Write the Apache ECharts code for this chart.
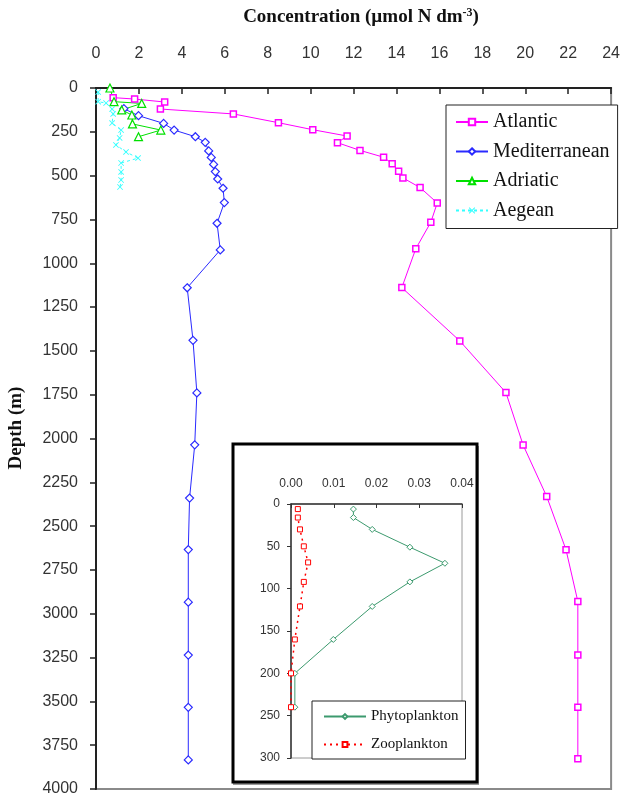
<!DOCTYPE html>
<html>
<head>
<meta charset="utf-8">
<script src="https://cdn.jsdelivr.net/npm/echarts@6/dist/echarts.min.js"></script>
<style>
  html, body { margin: 0; padding: 0; background: #fff; }
  #chart { width: 623px; height: 799px; }
</style>
</head>
<body>
<div id="chart"></div>
<script>
// main panel: concentration (umol N dm-3) against depth (m)
const atlanticConc = [0.8, 1.8, 3.2, 3.0, 6.4, 8.5, 10.1, 11.7, 11.25, 12.3, 13.4, 13.8, 14.1, 14.3, 15.1, 15.9, 15.6, 14.9, 14.25, 16.95, 19.1, 19.9, 21.0, 21.9, 22.45, 22.45, 22.45, 22.45];
const atlanticDepth = [55, 63, 80, 120, 148, 198, 238, 274, 312, 356, 395, 432, 475, 513, 568, 656, 766, 917, 1139, 1443, 1738, 2037, 2331, 2635, 2930, 3235, 3533, 3828];

const medConc = [1.3, 1.98, 3.15, 3.64, 4.63, 5.09, 5.25, 5.37, 5.48, 5.56, 5.67, 5.92, 5.98, 5.64, 5.79, 4.25, 4.52, 4.7, 4.6, 4.36, 4.3, 4.3, 4.3, 4.3, 4.3];
const medDepth = [118, 158, 202, 240, 278, 310, 359, 396, 436, 477, 519, 572, 654, 772, 924, 1140, 1440, 1740, 2036, 2340, 2634, 2934, 3236, 3534, 3834];

const adriaticConc = [0.65, 0.84, 2.13, 1.2, 1.67, 1.7, 3.02, 1.98];
const adriaticDepth = [0, 78, 88, 125, 154, 205, 240, 278];

const aegeanConc = [0.1, 0.1, 0.47, 0.75, 0.8, 0.75, 1.17, 1.1, 0.93, 1.4, 1.96, 1.17, 1.17, 1.17, 1.12];
const aegeanDepth = [23, 78, 86, 120, 148, 200, 240, 285, 325, 365, 400, 428, 479, 525, 565];

// inset panel
const phytoConc = [0.0146, 0.0146, 0.019, 0.0278, 0.036, 0.0278, 0.019, 0.0099, 0.0009, 0.0009];
const phytoDepth = [6, 16, 30, 51, 70, 92, 121, 160, 200, 240];
const zooConc = [0.0016, 0.0016, 0.0021, 0.003, 0.004, 0.003, 0.0021, 0.0009, 0, 0];
const zooDepth = [6, 16, 30, 50, 69, 92, 121, 160, 200, 240];

const pair = (xs, ys) => xs.map((v, i) => [v, ys[i]]);

const crossPath = 'path://M0,1L1,0L5,4L9,0L10,1L6,5L10,9L9,10L5,6L1,10L0,9L4,5Z';
const sans = 'Liberation Sans';
const serif = 'Liberation Serif';

const chart = echarts.init(document.getElementById('chart'), null, { renderer: 'canvas' });

chart.setOption({
    backgroundColor: '#ffffff',
    animation: false,
    grid: [{
        left: 96, top: 88, width: 516, height: 701,
        show: true, borderColor: '#8a8a8a', borderWidth: 2
    }, {
        left: 291, top: 504, width: 171, height: 254,
        show: true, borderColor: '#9a9a9a', borderWidth: 1, z: 15
    }],
    xAxis: [{
        gridIndex: 0, type: 'value', position: 'top',
        min: 0, max: 24, interval: 2,
        axisLine: { show: true, lineStyle: { color: '#222', width: 2 } },
        axisTick: { show: true, inside: true, length: 6, lineStyle: { color: '#222', width: 1.5 } },
        axisLabel: { margin: 26, fontFamily: sans, fontSize: 16, color: '#333' },
        splitLine: { show: false }
    }, {
        gridIndex: 1, type: 'value', position: 'top', z: 20,
        min: 0, max: 0.04, interval: 0.01,
        axisLine: { show: true, lineStyle: { color: '#333', width: 1.5 } },
        axisTick: { show: true, inside: true, length: 4, lineStyle: { color: '#333' } },
        axisLabel: { margin: 14, fontFamily: sans, fontSize: 12, color: '#333', formatter: v => v.toFixed(2) },
        splitLine: { show: false }
    }],
    yAxis: [{
        gridIndex: 0, type: 'value', inverse: true,
        min: 0, max: 4000, interval: 250,
        axisLine: { show: true, lineStyle: { color: '#222', width: 2 } },
        axisTick: { show: true, length: 6, lineStyle: { color: '#222', width: 1.5 } },
        axisLabel: { margin: 18, fontFamily: sans, fontSize: 16, color: '#333', formatter: v => String(v) },
        splitLine: { show: false }
    }, {
        gridIndex: 1, type: 'value', inverse: true, z: 20,
        min: 0, max: 300, interval: 50,
        axisLine: { show: true, lineStyle: { color: '#333', width: 1.5 } },
        axisTick: { show: true, length: 4, lineStyle: { color: '#333' } },
        axisLabel: { margin: 11, fontFamily: sans, fontSize: 12, color: '#333', formatter: v => String(v) },
        splitLine: { show: false }
    }],
    legend: [{
        orient: 'vertical', left: 446, top: 105,
        padding: [7, 8, 8, 9], itemGap: 9.5, itemWidth: 32, itemHeight: 8,
        backgroundColor: '#fff', borderColor: '#222', borderWidth: 1,
        textStyle: { fontFamily: serif, fontSize: 20, color: '#111' },
        data: ['Atlantic', 'Mediterranean', 'Adriatic', 'Aegean']
    }, {
        orient: 'vertical', left: 312, top: 701, z: 25,
        padding: [8, 7, 7, 11], itemGap: 13, itemWidth: 42, itemHeight: 6,
        backgroundColor: '#fff', borderColor: '#222', borderWidth: 1,
        textStyle: { fontFamily: serif, fontSize: 15, color: '#111' },
        data: ['Phytoplankton', 'Zooplankton']
    }],
    graphic: [{
        type: 'text', z: 30,
        style: {
            x: 361, y: 17, align: 'center', verticalAlign: 'middle',
            textAlign: 'center', textVerticalAlign: 'middle',
            text: '{b|Concentration (µmol N dm}{s|-3}{b|)}',
            rich: {
                b: { fontFamily: serif, fontWeight: 'bold', fontSize: 19, fill: '#111' },
                s: { fontFamily: serif, fontWeight: 'bold', fontSize: 12, fill: '#111', verticalAlign: 'top', padding: [0, 0, 9, 0] }
            }
        }
    }, {
        type: 'text', z: 30, x: 16, y: 428, rotation: Math.PI / 2,
        style: {
            text: 'Depth (m)', align: 'center', verticalAlign: 'middle',
            textAlign: 'center', textVerticalAlign: 'middle',
            fontFamily: serif, fontWeight: 'bold', fontSize: 19, fill: '#111'
        }
    }, {
        type: 'rect', z: 9,
        shape: { x: 233, y: 446, width: 246, height: 339 },
        style: { fill: '#9a9a9a' }
    }, {
        type: 'rect', z: 10,
        shape: { x: 233, y: 444, width: 244, height: 338 },
        style: { fill: '#ffffff', stroke: '#000', lineWidth: 3 }
    }],
    series: [{
        name: 'Atlantic', type: 'line', xAxisIndex: 0, yAxisIndex: 0,
        data: pair(atlanticConc, atlanticDepth),
        symbol: 'rect', symbolSize: 6,
        lineStyle: { color: '#ff00ff', width: 1 },
        itemStyle: { color: '#ffffff', borderColor: '#ff00ff', borderWidth: 1.5 }
    }, {
        name: 'Mediterranean', type: 'line', xAxisIndex: 0, yAxisIndex: 0,
        data: pair(medConc, medDepth),
        symbol: 'diamond', symbolSize: 8,
        lineStyle: { color: '#2a2aff', width: 1 },
        itemStyle: { color: '#ffffff', borderColor: '#2a2aff', borderWidth: 1.2 }
    }, {
        name: 'Adriatic', type: 'line', xAxisIndex: 0, yAxisIndex: 0,
        data: pair(adriaticConc, adriaticDepth),
        symbol: 'triangle', symbolSize: 8,
        lineStyle: { color: '#00e000', width: 1 },
        itemStyle: { color: '#ffffff', borderColor: '#00e000', borderWidth: 1.2 }
    }, {
        name: 'Aegean', type: 'line', xAxisIndex: 0, yAxisIndex: 0,
        data: pair(aegeanConc, aegeanDepth),
        symbol: crossPath, symbolSize: 6,
        lineStyle: { color: '#33ffff', width: 1, type: [3, 3] },
        itemStyle: { color: '#33ffff' }
    }, {
        name: 'Phytoplankton', type: 'line', xAxisIndex: 1, yAxisIndex: 1, z: 20,
        data: pair(phytoConc, phytoDepth),
        symbol: 'diamond', symbolSize: 6,
        lineStyle: { color: '#3c9a6e', width: 1 },
        itemStyle: { color: '#ffffff', borderColor: '#3c9a6e', borderWidth: 1 }
    }, {
        name: 'Zooplankton', type: 'line', xAxisIndex: 1, yAxisIndex: 1, z: 20,
        data: pair(zooConc, zooDepth),
        symbol: 'rect', symbolSize: 5,
        lineStyle: { color: '#ff0000', width: 1.5, type: [2, 4] },
        itemStyle: { color: '#ffffff', borderColor: '#ff0000', borderWidth: 1 }
    }]
});
</script>
</body>
</html>
